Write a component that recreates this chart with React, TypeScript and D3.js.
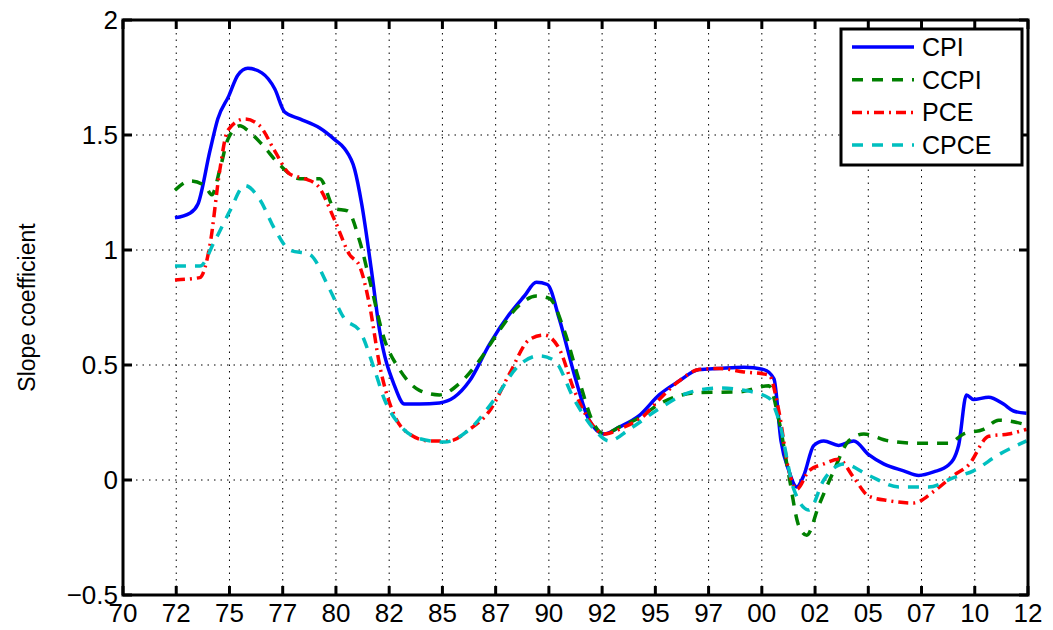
import * as d3 from "d3";

// years are given as (year - 1900), so 102.5 is mid-2002
const cpi: [number, number][] = [[72.44,1.14],[73.14,1.16],[73.52,1.2],[74.08,1.43],[74.45,1.57],[74.97,1.67],[75.39,1.76],[75.86,1.79],[76.52,1.77],[77.13,1.70],[77.59,1.6],[78.30,1.57],[79.24,1.53],[79.94,1.48],[80.41,1.44],[80.88,1.35],[81.21,1.2],[81.67,0.91],[82.05,0.65],[82.75,0.41],[83.22,0.33],[83.92,0.33],[84.86,0.335],[85.56,0.36],[86.27,0.43],[87.21,0.59],[88.14,0.72],[88.85,0.8],[89.41,0.86],[89.93,0.85],[90.49,0.7],[91.19,0.46],[91.89,0.26],[92.60,0.2],[93.30,0.23],[94.24,0.28],[95.18,0.37],[96.11,0.43],[97.05,0.48],[97.99,0.485],[99.16,0.49],[100.10,0.48],[100.57,0.44],[100.90,0.17],[101.27,0.04],[101.64,-0.03],[101.97,0.02],[102.44,0.15],[102.91,0.17],[103.61,0.15],[104.32,0.17],[105.02,0.11],[105.72,0.07],[106.66,0.04],[107.37,0.02],[108.07,0.035],[108.77,0.065],[109.24,0.15],[109.61,0.37],[109.94,0.35],[110.65,0.36],[111.35,0.33],[111.82,0.3],[112.43,0.29]];
const ccpi: [number, number][] = [[72.44,1.26],[73.14,1.3],[73.84,1.28],[74.17,1.24],[74.55,1.35],[74.92,1.48],[75.49,1.54],[75.86,1.52],[76.52,1.46],[77.36,1.37],[78.30,1.31],[79.24,1.31],[79.94,1.18],[80.55,1.17],[81.11,1.04],[81.58,0.87],[82.28,0.61],[82.99,0.48],[83.92,0.39],[84.86,0.37],[85.80,0.42],[86.74,0.52],[87.67,0.65],[88.61,0.76],[89.41,0.8],[90.02,0.79],[90.72,0.65],[91.43,0.43],[92.13,0.24],[92.60,0.2],[93.30,0.23],[94.24,0.27],[95.18,0.33],[97.05,0.38],[98.92,0.383],[100.33,0.41],[100.80,0.26],[101.27,0.02],[101.74,-0.2],[102.11,-0.24],[102.68,-0.11],[103.38,0.04],[104.08,0.17],[104.79,0.2],[105.96,0.17],[107.37,0.16],[108.77,0.16],[109.47,0.2],[110.41,0.22],[111.12,0.26],[112.43,0.24]];
const pce: [number, number][] = [[72.44,0.87],[73.61,0.88],[74.08,1.02],[74.55,1.35],[74.92,1.52],[75.72,1.57],[76.42,1.54],[77.13,1.43],[77.83,1.33],[78.53,1.31],[79.14,1.28],[79.94,1.13],[80.64,0.98],[81.11,0.93],[81.58,0.76],[82.05,0.5],[82.75,0.28],[83.45,0.2],[84.39,0.17],[85.33,0.17],[86.27,0.22],[87.21,0.3],[88.14,0.46],[89.08,0.61],[89.78,0.63],[90.49,0.57],[91.19,0.39],[91.89,0.26],[92.60,0.2],[93.53,0.23],[94.47,0.28],[95.18,0.35],[96.11,0.43],[97.05,0.48],[97.99,0.485],[99.16,0.47],[100.33,0.457],[100.80,0.3],[101.27,0.04],[101.64,-0.04],[102.21,0.04],[102.91,0.07],[103.61,0.09],[104.32,0.01],[105.02,-0.07],[105.96,-0.09],[107.13,-0.1],[108.07,-0.05],[109.01,0.02],[109.71,0.065],[110.65,0.19],[111.58,0.2],[112.43,0.22]];
const cpce: [number, number][] = [[72.44,0.93],[73.61,0.93],[74.31,1.04],[75.02,1.17],[75.72,1.28],[76.42,1.22],[77.13,1.09],[77.83,1.0],[78.77,0.98],[79.70,0.83],[80.41,0.7],[81.11,0.65],[81.81,0.48],[82.28,0.35],[82.99,0.24],[83.92,0.18],[85.10,0.165],[86.27,0.22],[87.44,0.35],[88.61,0.5],[89.55,0.54],[90.25,0.52],[91.19,0.35],[92.13,0.22],[92.83,0.17],[93.77,0.22],[95.18,0.31],[96.58,0.38],[97.99,0.4],[99.16,0.39],[100.33,0.357],[100.80,0.26],[101.50,-0.04],[102.21,-0.13],[102.91,0.0],[103.85,0.07],[105.02,0.02],[106.43,-0.03],[107.83,-0.03],[109.01,0.01],[109.94,0.04],[111.12,0.11],[112.43,0.17]];

const xTicks = d3.range(0, 18).map((i) => 70 + i * 2.5);
const yTicks = [-0.5, 0, 0.5, 1, 1.5, 2];

const series = [
  { name: "CPI", data: cpi, color: "#0000ff", dash: "" },
  { name: "CCPI", data: ccpi, color: "#008000", dash: "11,9" },
  { name: "PCE", data: pce, color: "#ff0000", dash: "10,5,2,5" },
  { name: "CPCE", data: cpce, color: "#00bfbf", dash: "11,9" },
];

const W = 1053;
const H = 630;
const m = { left: 123, top: 20, right: 1028, bottom: 595 };

export default function App() {
  const x = d3.scaleLinear().domain([70, 112.5]).range([m.left, m.right]);
  const y = d3.scaleLinear().domain([-0.5, 2]).range([m.bottom, m.top]);
  const line = d3
    .line<[number, number]>()
    .x((d) => x(d[0]))
    .y((d) => y(d[1]))
    .curve(d3.curveMonotoneX);
  const font = "'Liberation Sans', Arial, sans-serif";
  const fmt = (v: number) => String(Math.floor(v) % 100).padStart(2, "0");

  return (
    <svg width={W} height={H} style={{ position: "absolute", left: 0, top: 0 }} fontFamily={font}>
      <rect width={W} height={H} fill="#fff" />
      {/* grid */}
      {xTicks.slice(1, -1).map((t) => (
        <line key={"gx" + t} x1={x(t)} x2={x(t)} y1={m.top} y2={m.bottom} stroke="#000" strokeWidth={1} strokeDasharray="1.5,5" />
      ))}
      {yTicks.slice(1, -1).map((t) => (
        <line key={"gy" + t} x1={m.left} x2={m.right} y1={y(t)} y2={y(t)} stroke="#000" strokeWidth={1} strokeDasharray="1.5,5" />
      ))}
      {series.map((s) => (
        <path key={s.name} d={line(s.data) ?? ""} fill="none" stroke={s.color} strokeWidth={3.5} strokeDasharray={s.dash} strokeLinejoin="round" />
      ))}
      {/* ticks */}
      {xTicks.map((t) => (
        <g key={"tx" + t}>
          <line x1={x(t)} x2={x(t)} y1={m.bottom} y2={m.bottom - 9} stroke="#000" strokeWidth={3} />
          <line x1={x(t)} x2={x(t)} y1={m.top} y2={m.top + 9} stroke="#000" strokeWidth={3} />
          <text x={x(t)} y={m.bottom + 27} textAnchor="middle" fontSize={26}>{fmt(t)}</text>
        </g>
      ))}
      {yTicks.map((t) => (
        <g key={"ty" + t}>
          <line x1={m.left} x2={m.left + 9} y1={y(t)} y2={y(t)} stroke="#000" strokeWidth={3} />
          <line x1={m.right} x2={m.right - 9} y1={y(t)} y2={y(t)} stroke="#000" strokeWidth={3} />
          <text x={m.left - 5} y={y(t) + 9} textAnchor="end" fontSize={26}>{t < 0 ? "\u2212" + Math.abs(t) : t}</text>
        </g>
      ))}
      <rect x={m.left} y={m.top} width={m.right - m.left} height={m.bottom - m.top} fill="none" stroke="#000" strokeWidth={3} />
      <text transform={`translate(35,${(m.top + m.bottom) / 2}) rotate(-90)`} textAnchor="middle" fontSize={23}>Slope coefficient</text>
      {/* legend */}
      <rect x={841} y={29} width={181} height={136} fill="#fff" stroke="#000" strokeWidth={3} />
      {series.map((s, i) => (
        <g key={"lg" + s.name} transform={`translate(0,${47 + i * 32.7})`}>
          <line x1={852} x2={914} y1={0} y2={0} stroke={s.color} strokeWidth={3.5} strokeDasharray={s.dash} />
          <text x={922} y={9} fontSize={25}>{s.name}</text>
        </g>
      ))}
    </svg>
  );
}
